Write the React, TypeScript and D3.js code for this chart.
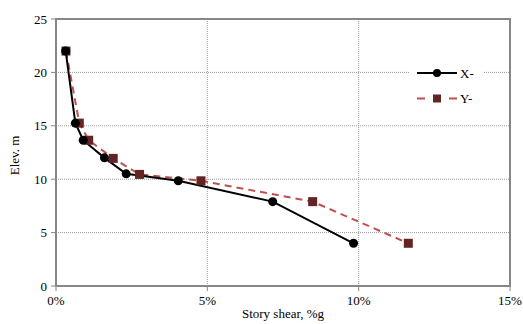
import React from "react";
import * as d3 from "d3";

const xSeriesShear = [0.32, 0.64, 0.9, 1.6, 2.32, 4.04, 7.16, 9.83];
const xSeriesElev = [22.0, 15.25, 13.65, 12.0, 10.5, 9.85, 7.9, 4.0];
const ySeriesShear = [0.33, 0.77, 1.08, 1.89, 2.76, 4.79, 8.48, 11.64];
const ySeriesElev = [22.0, 15.25, 13.65, 11.95, 10.45, 9.85, 7.9, 4.0];
const xTicks = [0, 5, 10, 15];
const yTicks = [0, 5, 10, 15, 20, 25];
const seriesNames = ["X-", "Y-"];

const W = 523;
const H = 324;
const L = 56, T = 19, R = 510, B = 286;

export default function App() {
  const x = d3.scaleLinear().domain([0, 15]).range([L, R]);
  const y = d3.scaleLinear().domain([0, 25]).range([B, T]);
  const line = d3.line<[number, number]>().x(d => x(d[0])).y(d => y(d[1]));
  const ptsX: [number, number][] = xSeriesShear.map((v, i) => [v, xSeriesElev[i]]);
  const ptsY: [number, number][] = ySeriesShear.map((v, i) => [v, ySeriesElev[i]]);
  const font = "Liberation Serif, DejaVu Serif, serif";
  const legX = 417, legY1 = 73, legY2 = 98.5;
  return (
    <svg width={W} height={H} style={{ position: "absolute", left: 0, top: 0, fontFamily: font }}>
      <rect width={W} height={H} fill="#fff" />
      {yTicks.filter(t => t > 0 && t < 25).map(t => (
        <line key={"gy" + t} x1={L} x2={R} y1={y(t)} y2={y(t)} stroke="#999" strokeWidth={1} strokeDasharray="1,1" />
      ))}
      {xTicks.filter(t => t > 0 && t < 15).map(t => (
        <line key={"gx" + t} x1={x(t)} x2={x(t)} y1={T} y2={B} stroke="#999" strokeWidth={1} strokeDasharray="1,1" />
      ))}
      <rect x={409} y={62} width={74} height={48} fill="#fff" />
      <rect x={L} y={T} width={R - L} height={B - T} fill="none" stroke="#868686" strokeWidth={2} />
      {yTicks.map(t => (
        <g key={"ty" + t}>
          <line x1={L - 5} x2={L} y1={y(t)} y2={y(t)} stroke="#868686" strokeWidth={1} />
          <text x={L - 9} y={y(t)} dy="0.35em" textAnchor="end" fontSize={13} fill="#000" style={{ fontFamily: font }}>{t}</text>
        </g>
      ))}
      {xTicks.map(t => (
        <g key={"tx" + t}>
          <line x1={x(t)} x2={x(t)} y1={B} y2={B + 5} stroke="#868686" strokeWidth={1} />
          <text x={x(t)} y={B + 19} textAnchor="middle" fontSize={13} fill="#000" style={{ fontFamily: font }}>{t + "%"}</text>
        </g>
      ))}
      <text x={283} y={318} textAnchor="middle" fontSize={13} fill="#000" style={{ fontFamily: font }}>Story shear, %g</text>
      <text transform={`translate(19,${(T + B) / 2 + 3}) rotate(-90)`} textAnchor="middle" fontSize={13} fill="#000" style={{ fontFamily: font }}>Elev. m</text>

      <path d={line(ptsY) || ""} fill="none" stroke="#C0504D" strokeWidth={2} strokeDasharray="7,5" />
      <path d={line(ptsX) || ""} fill="none" stroke="#000" strokeWidth={2} />
      {ptsY.map((p, i) => (
        <rect key={"sy" + i} x={x(p[0]) - 4.5} y={y(p[1]) - 4.5} width={9} height={9} fill="#632523" />
      ))}
      {ptsX.map((p, i) => (
        <circle key={"cx" + i} cx={x(p[0])} cy={y(p[1])} r={4.5} fill="#000" />
      ))}

      <line x1={legX} x2={legX + 40} y1={legY1} y2={legY1} stroke="#000" strokeWidth={2} />
      <circle cx={legX + 20} cy={legY1} r={4} fill="#000" />
      <text x={legX + 43} y={legY1} dy="0.35em" fontSize={13} fill="#000" style={{ fontFamily: font }}>{seriesNames[0]}</text>
      <line x1={legX} x2={legX + 40} y1={legY2} y2={legY2} stroke="#C0504D" strokeWidth={2} strokeDasharray="8,8" />
      <rect x={legX + 16} y={legY2 - 4} width={8} height={8} fill="#632523" />
      <text x={legX + 43} y={legY2} dy="0.35em" fontSize={13} fill="#000" style={{ fontFamily: font }}>{seriesNames[1]}</text>
    </svg>
  );
}
